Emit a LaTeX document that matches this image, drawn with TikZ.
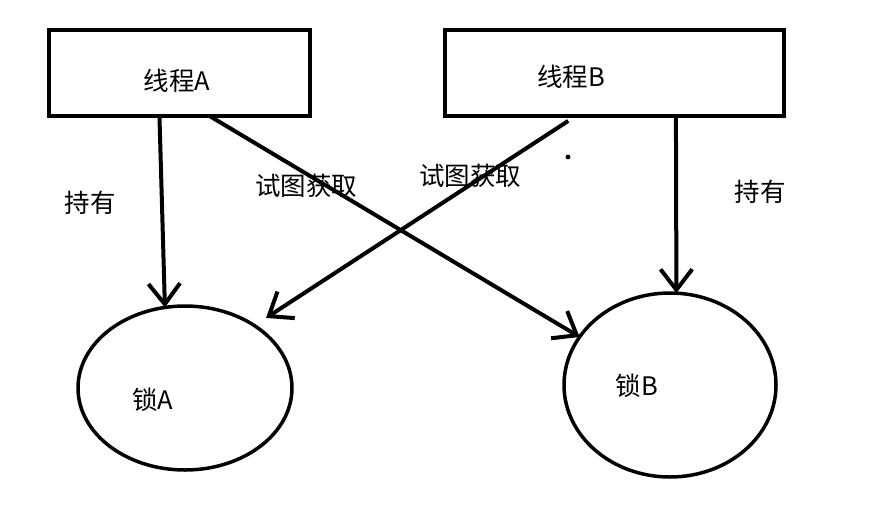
\documentclass[tikz,border=0pt]{standalone}
\usepackage{fontspec}
\newfontfamily\cjk{Noto Sans CJK SC}
\usetikzlibrary{shapes.geometric,arrows.meta}
\begin{document}
\begin{tikzpicture}[x=1pt,y=-1pt,
  every node/.style={font=\cjk\fontsize{25.5}{30}\selectfont, inner sep=0pt, outer sep=0pt},
  thread/.style={draw, line width=4pt, minimum width=261pt, minimum height=86pt, rectangle},
  lock/.style={draw, line width=3.5pt, ellipse},
  conn/.style={line width=4pt, -{Straight Barb[angle=75:26pt, line width=4pt]}},
  lbl/.style={anchor=center}]
\useasboundingbox[fill=white] (0,0) rectangle (878,507);
% threads
\node[thread] (tA) at (179.5,73) {};
\node[thread, minimum width=339pt] (tB) at (614.5,73) {};
\node[lbl] (tAlabel) at (177,81) {线程A};
\node[lbl] (tBlabel) at (571,77) {线程B};
% locks
\node[lock, minimum width=214pt, minimum height=164pt] (lA) at (185,388) {};
\node[lock, minimum width=212pt, minimum height=184pt] (lB) at (670,385) {};
\node[lbl] (lAlabel) at (153,400) {锁A};
\node[lbl] (lBlabel) at (637,386) {锁B};
% labels
\node[lbl] (hA) at (90,203) {持有};
\node[lbl] (hB) at (760,192) {持有};
\node[lbl] (tryA) at (306,186) {试图获取};
\node[lbl] (tryB) at (470,176) {试图获取};
% connectors
\draw[conn] (tA.245.6) -- (lA.104.8);
\draw[conn] (tB.325.5) -- (lB.86);
\draw[conn] (tA.305.5) -- (lB.152.7);
\draw[conn, shorten <=9pt, shorten >=14pt] (tB.228.9) -- (lA.42.5);
% stray dot
\fill (568,157) circle (2.4pt);
\end{tikzpicture}
\end{document}
